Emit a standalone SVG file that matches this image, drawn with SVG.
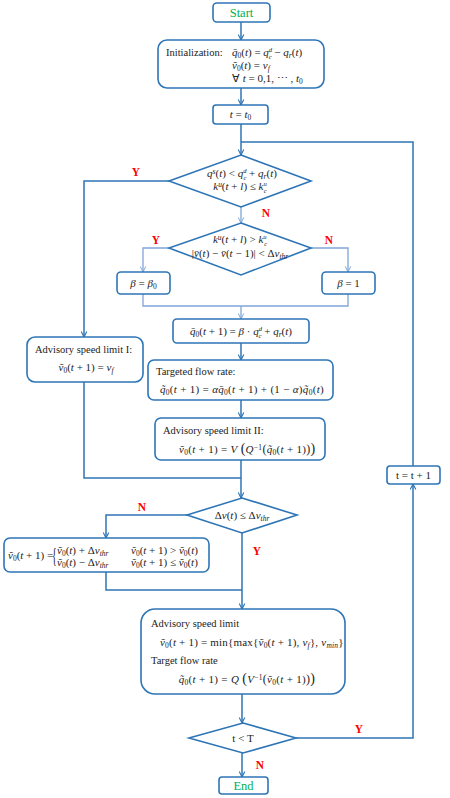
<svg xmlns="http://www.w3.org/2000/svg" width="450" height="798" viewBox="0 0 450 798">
<style>
.box{fill:#fff;stroke:#2E75B6;stroke-width:1.6}
.dia{fill:#fff;stroke:#2E75B6;stroke-width:1.6}
.c{fill:none;stroke:#2E75B6;stroke-width:1.5}
.lc{fill:none;stroke:#7FA6D8;stroke-width:1.3}
.t{font-family:"Liberation Serif","Times New Roman",serif;font-size:10.5px;fill:#222}
.m{font-family:"Liberation Serif","Times New Roman",serif;font-size:11px;fill:#222}
.i{font-style:italic}
.g{font-family:"Liberation Serif","Times New Roman",serif;font-size:12.5px;fill:#00B050}
.r{font-family:"Liberation Serif","Times New Roman",serif;font-size:11.5px;font-weight:bold;fill:#FF0000}
.sp{font-size:68%;baseline-shift:3.5px}
.sb{font-size:68%;baseline-shift:-2.2px}
.sp2{font-size:60%;baseline-shift:4.2px}
.sb2{font-size:60%;baseline-shift:-3px}
.mid{text-anchor:middle}
</style>
<defs>
<marker id="a" viewBox="0 0 10 10" refX="9" refY="5" markerWidth="7" markerHeight="7" orient="auto" markerUnits="userSpaceOnUse">
<path d="M1 1 L9 5 L1 9" fill="none" stroke="#2E75B6" stroke-width="1.6"/>
</marker>
<marker id="al" viewBox="0 0 10 10" refX="9" refY="5" markerWidth="7" markerHeight="7" orient="auto" markerUnits="userSpaceOnUse">
<path d="M1 1 L9 5 L1 9" fill="none" stroke="#7FA6D8" stroke-width="1.4"/>
</marker>
</defs>
<g id="connectors">
<path class="c" d="M241 22 V40" marker-end="url(#a)"/>
<path class="c" d="M241 88 V105" marker-end="url(#a)"/>
<path class="c" d="M241 124 V155" marker-end="url(#a)"/>
<path class="c" d="M413 466 V142 H241"/>
<path class="c" d="M169 181 H84 V337" marker-end="url(#a)"/>
<path class="lc" d="M241 207 V223" marker-end="url(#al)"/>
<path class="lc" d="M169 248 H143 V272" marker-end="url(#al)"/>
<path class="lc" d="M311 248 H348 V272" marker-end="url(#al)"/>
<path class="lc" d="M143 294 V306 H348 V294"/>
<path class="lc" d="M241 306 V319" marker-end="url(#al)"/>
<path class="c" d="M241 343 V360" marker-end="url(#a)"/>
<path class="c" d="M241 400 V418" marker-end="url(#a)"/>
<path class="c" d="M241 460 V498" marker-end="url(#a)"/>
<path class="c" d="M84 382 V478 H241"/>
<path class="c" d="M187 515 H106 V538" marker-end="url(#a)"/>
<path class="c" d="M242 533 V609" marker-end="url(#a)"/>
<path class="c" d="M106 572 V590 H242"/>
<path class="c" d="M242 694 V723" marker-end="url(#a)"/>
<path class="c" d="M296 738 H413 V484" marker-end="url(#a)"/>
<path class="c" d="M242 753 V777" marker-end="url(#a)"/>
<text class="r" x="136" y="176" text-anchor="middle">Y</text>
<text class="r" x="266" y="217" text-anchor="middle">N</text>
<text class="r" x="156" y="244" text-anchor="middle">Y</text>
<text class="r" x="329" y="244" text-anchor="middle">N</text>
<text class="r" x="142" y="511" text-anchor="middle">N</text>
<text class="r" x="257" y="555" text-anchor="middle">Y</text>
<text class="r" x="359" y="733" text-anchor="middle">Y</text>
<text class="r" x="260" y="769" text-anchor="middle">N</text>
</g>
<g id="start">
<rect class="box" x="213" y="3" width="57" height="19" rx="4"/>
<text class="g mid" x="241.5" y="17">Start</text>
</g>
<g id="init">
<rect class="box" x="158" y="40" width="166" height="48" rx="9"/>
<text class="t" x="166" y="56">Initialization:</text>
<text class="m" x="232" y="56" font-size="10.5"><tspan class="i">q̄</tspan><tspan class="sb">0</tspan>(<tspan class="i">t</tspan>) = <tspan class="i">q</tspan><tspan class="sp2 i">d</tspan><tspan class="sb2 i" dx="-3.5">c</tspan> − <tspan class="i">q</tspan><tspan class="sb i">r</tspan>(<tspan class="i">t</tspan>)</text>
<text class="m" x="232" y="69" font-size="10.5"><tspan class="i">ṽ</tspan><tspan class="sb">0</tspan>(<tspan class="i">t</tspan>) = <tspan class="i">v</tspan><tspan class="sb i">f</tspan></text>
<text class="m" x="232" y="82" font-size="10.5">∀ <tspan class="i">t</tspan> = 0,1, ⋯ , <tspan class="i">t</tspan><tspan class="sb">0</tspan></text>
</g>
<g id="t0">
<rect class="box" x="213" y="105" width="55" height="19" rx="3"/>
<text class="m mid" x="240.5" y="118"><tspan class="i">t</tspan> = <tspan class="i">t</tspan><tspan class="sb">0</tspan></text>
</g>
<g id="decision1">
<polygon class="dia" points="241,155 311,181 241,207 169,181"/>
<text class="m mid" x="242" y="177" font-size="8.5"><tspan class="i">q</tspan><tspan class="sp i">s</tspan>(<tspan class="i">t</tspan>) &lt; <tspan class="i">q</tspan><tspan class="sp2 i">d</tspan><tspan class="sb2 i" dx="-3">c</tspan> + <tspan class="i">q</tspan><tspan class="sb i">r</tspan>(<tspan class="i">t</tspan>)</text>
<text class="m mid" x="240" y="190" font-size="8.5"><tspan class="i">k</tspan><tspan class="sp i">u</tspan>(<tspan class="i">t</tspan> + <tspan class="i">l</tspan>) ≤ <tspan class="i">k</tspan><tspan class="sp2 i">u</tspan><tspan class="sb2 i" dx="-3">c</tspan></text>
</g>
<g id="decision2">
<polygon class="dia" points="241,223 311,248 241,275 169,248"/>
<text class="m mid" x="240" y="243" font-size="7.5"><tspan class="i">k</tspan><tspan class="sp i">u</tspan>(<tspan class="i">t</tspan> + <tspan class="i">l</tspan>) &gt; <tspan class="i">k</tspan><tspan class="sp2 i">u</tspan><tspan class="sb2 i" dx="-2.5">c</tspan></text>
<text class="m mid" x="240" y="257" font-size="7.5">|<tspan class="i">v̄</tspan>(<tspan class="i">t</tspan>) − <tspan class="i">v̄</tspan>(<tspan class="i">t</tspan> − 1)| &lt; Δ<tspan class="i">v</tspan><tspan class="sb i">thr</tspan></text>
</g>
<g id="beta0">
<rect class="box" x="117" y="272" width="53" height="22" rx="4"/>
<text class="m mid" x="143.5" y="287"><tspan class="i">β</tspan> = <tspan class="i">β</tspan><tspan class="sb">0</tspan></text>
</g>
<g id="beta1">
<rect class="box" x="322" y="272" width="53" height="22" rx="4"/>
<text class="m mid" x="348.5" y="287"><tspan class="i">β</tspan> = 1</text>
</g>
<g id="qbar">
<rect class="box" x="173" y="319" width="136" height="24" rx="4"/>
<text class="m mid" x="241" y="335"><tspan class="i">q̄</tspan><tspan class="sb">0</tspan>(<tspan class="i">t</tspan> + 1) = <tspan class="i">β</tspan> · <tspan class="i">q</tspan><tspan class="sp2 i">d</tspan><tspan class="sb2 i" dx="-3.5">c</tspan> + <tspan class="i">q</tspan><tspan class="sb i">r</tspan>(<tspan class="i">t</tspan>)</text>
</g>
<g id="adv1">
<rect class="box" x="27" y="337" width="116" height="45" rx="8"/>
<text class="t" x="35" y="353">Advisory speed limit I:</text>
<text class="m mid" x="86" y="371"><tspan class="i">ṽ</tspan><tspan class="sb">0</tspan>(<tspan class="i">t</tspan> + 1) = <tspan class="i">v</tspan><tspan class="sb i">f</tspan></text>
</g>
<g id="targeted">
<rect class="box" x="148" y="360" width="185" height="40" rx="6"/>
<text class="t" x="156" y="375">Targeted flow rate:</text>
<text class="m" x="160" y="393" letter-spacing="0.3"><tspan class="i">q̃</tspan><tspan class="sb">0</tspan>(<tspan class="i">t</tspan> + 1) = <tspan class="i">αq̄</tspan><tspan class="sb">0</tspan>(<tspan class="i">t</tspan> + 1) + (1 − <tspan class="i">α</tspan>)<tspan class="i">q̃</tspan><tspan class="sb">0</tspan>(<tspan class="i">t</tspan>)</text>
</g>
<g id="adv2">
<rect class="box" x="155" y="418" width="170" height="42" rx="6"/>
<text class="t" x="163" y="434">Advisory speed limit II:</text>
<text class="m" x="179" y="453" letter-spacing="0.3"><tspan class="i">ṽ</tspan><tspan class="sb">0</tspan>(<tspan class="i">t</tspan> + 1) = <tspan class="i">V</tspan> <tspan font-size="14">(</tspan><tspan class="i">Q</tspan><tspan class="sp">−1</tspan><tspan font-size="12">(</tspan><tspan class="i">q̃</tspan><tspan class="sb">0</tspan>(<tspan class="i">t</tspan> + 1)<tspan font-size="12">)</tspan><tspan font-size="14">)</tspan></text>
</g>
<g id="decision3">
<polygon class="dia" points="242,498 297,515 242,533 187,515"/>
<text class="m mid" x="242" y="519">Δ<tspan class="i">v</tspan>(<tspan class="i">t</tspan>) ≤ Δ<tspan class="i">v</tspan><tspan class="sb i">thr</tspan></text>
</g>
<g id="clip">
<rect class="box" x="4" y="538" width="205" height="34" rx="6"/>
<text class="m" x="8" y="559" font-size="9.5"><tspan class="i">ṽ</tspan><tspan class="sb">0</tspan>(<tspan class="i">t</tspan> + 1) =</text>
<text class="m" x="0" y="0" font-size="11" transform="translate(52 562) scale(0.9 2)">{</text>
<text class="m" x="57" y="554" font-size="9.5"><tspan class="i">ṽ</tspan><tspan class="sb">0</tspan>(<tspan class="i">t</tspan>) + Δ<tspan class="i">v</tspan><tspan class="sb i">thr</tspan></text>
<text class="m" x="57" y="566" font-size="9.5"><tspan class="i">ṽ</tspan><tspan class="sb">0</tspan>(<tspan class="i">t</tspan>) − Δ<tspan class="i">v</tspan><tspan class="sb i">thr</tspan></text>
<text class="m" x="131" y="554" font-size="9.5"><tspan class="i">ṽ</tspan><tspan class="sb">0</tspan>(<tspan class="i">t</tspan> + 1) &gt; <tspan class="i">ṽ</tspan><tspan class="sb">0</tspan>(<tspan class="i">t</tspan>)</text>
<text class="m" x="131" y="566" font-size="9.5"><tspan class="i">ṽ</tspan><tspan class="sb">0</tspan>(<tspan class="i">t</tspan> + 1) ≤ <tspan class="i">ṽ</tspan><tspan class="sb">0</tspan>(<tspan class="i">t</tspan>)</text>
</g>
<g id="final">
<rect class="box" x="141" y="609" width="204" height="85" rx="14"/>
<text class="t" x="151" y="627">Advisory speed limit</text>
<text class="m" x="160" y="646" letter-spacing="0.2"><tspan class="i">ṽ</tspan><tspan class="sb">0</tspan>(<tspan class="i">t</tspan> + 1) = min{max{<tspan class="i">ṽ</tspan><tspan class="sb">0</tspan>(<tspan class="i">t</tspan> + 1), <tspan class="i">v</tspan><tspan class="sb i">f</tspan>}, <tspan class="i">v</tspan><tspan class="sb i">min</tspan>}</text>
<text class="t" x="151" y="664">Target flow rate</text>
<text class="m mid" x="247" y="683" letter-spacing="0.3"><tspan class="i">q̃</tspan><tspan class="sb">0</tspan>(<tspan class="i">t</tspan> + 1) = <tspan class="i">Q</tspan> <tspan font-size="14">(</tspan><tspan class="i">V</tspan><tspan class="sp">−1</tspan><tspan font-size="12">(</tspan><tspan class="i">ṽ</tspan><tspan class="sb">0</tspan>(<tspan class="i">t</tspan> + 1)<tspan font-size="12">)</tspan><tspan font-size="14">)</tspan></text>
</g>
<g id="decision4">
<polygon class="dia" points="243,723 296,738 243,753 189,738"/>
<text class="m mid" x="243" y="742">t &lt; T</text>
</g>
<g id="inc">
<rect class="box" x="387" y="466" width="53" height="18" rx="3"/>
<text class="m mid" x="413.5" y="479" font-size="10.5">t = t + 1</text>
</g>
<g id="end">
<rect class="box" x="219" y="777" width="49" height="17" rx="3"/>
<text class="g mid" x="243.5" y="790">End</text>
</g>
</svg>
